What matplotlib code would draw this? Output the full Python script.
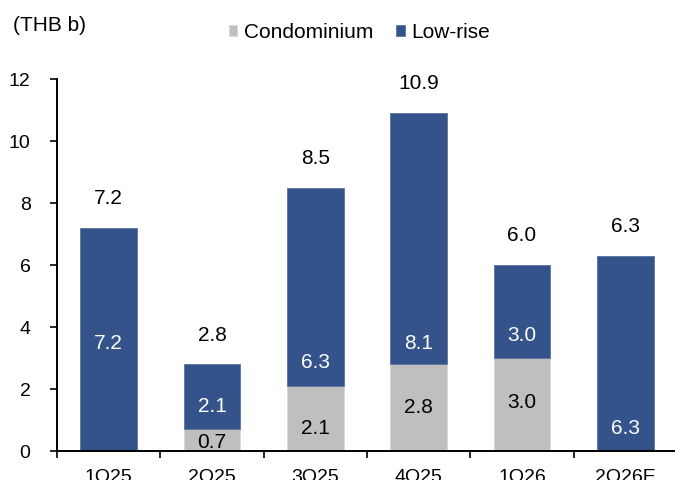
import matplotlib
matplotlib.use("Agg")
import matplotlib.pyplot as plt
import numpy as np

plt.rcParams['font.family'] = ['Liberation Sans', 'DejaVu Sans']

categories = ["1Q25", "2Q25", "3Q25", "4Q25", "1Q26", "2Q26E"]
condo = [0.0, 0.7, 2.1, 2.8, 3.0, 0.0]
lowrise = [7.2, 2.1, 6.4, 8.1, 3.0, 6.3]
lowrise_labels = ["7.2", "2.1", "6.3", "8.1", "3.0", "6.3"]
condo_labels = ["", "0.7", "2.1", "2.8", "3.0", ""]
total_labels = ["7.2", "2.8", "8.5", "10.9", "6.0", "6.3"]
# vertical placement (data units) of the in-bar labels
lowrise_label_y = [3.48, 1.45, 2.84, 3.48, 3.74, 0.74]
condo_label_y = [0, 0.29, 0.74, 1.39, 1.55, 0]

GRAY = "#BFBFBF"
BLUE = "#34538A"

fig = plt.figure(figsize=(6.75, 4.8), dpi=100)
ax = fig.add_axes([0.0844, 0.0604, 1.003 - 0.0844, 0.8354 - 0.0604])

x = np.arange(len(categories))
w = 0.55
ax.bar(x, condo, w, color=GRAY, label="Condominium", edgecolor="#D9D9D9", linewidth=0.6)
ax.bar(x, lowrise, w, bottom=condo, color=BLUE, label="Low-rise", edgecolor="#5A74A0", linewidth=0.6)

for i in range(len(categories)):
    total = condo[i] + lowrise[i]
    ax.annotate(total_labels[i], (x[i], total), xytext=(0, 21), textcoords="offset points",
                ha="center", va="center", fontsize=15, color="black")
    ax.text(x[i], lowrise_label_y[i], lowrise_labels[i], ha="center", va="center",
            fontsize=15, color="white")
    if condo_labels[i]:
        ax.text(x[i], condo_label_y[i], condo_labels[i], ha="center", va="center",
                fontsize=15, color="black")

ax.set_xlim(-0.5, 5.5)
ax.set_ylim(0, 12)
ax.set_yticks(np.arange(0, 13, 2))
ax.set_xticks(x)
ax.set_xticklabels(categories)
ax.set_xticks(np.arange(-0.5, 6.0, 1.0), minor=True)
ax.tick_params(axis="x", which="major", length=0, pad=13, labelsize=14)
ax.tick_params(axis="x", which="minor", length=5, width=1.2, direction="out")
ax.tick_params(axis="y", which="major", length=5, width=1.2, direction="out", pad=14, labelsize=14)

for s in ["top", "right"]:
    ax.spines[s].set_visible(False)
for s in ["left", "bottom"]:
    ax.spines[s].set_linewidth(1.4)

fig.text(0.019, 0.946, "(THB b)", fontsize=15, ha="left", va="center")
fig.legend(loc="center", bbox_to_anchor=(0.532, 0.932), ncol=2, frameon=False,
           fontsize=15, handlelength=0.42, handleheight=0.42, handletextpad=0.3,
           columnspacing=1.1)

fig.savefig("out.png", dpi=100)
